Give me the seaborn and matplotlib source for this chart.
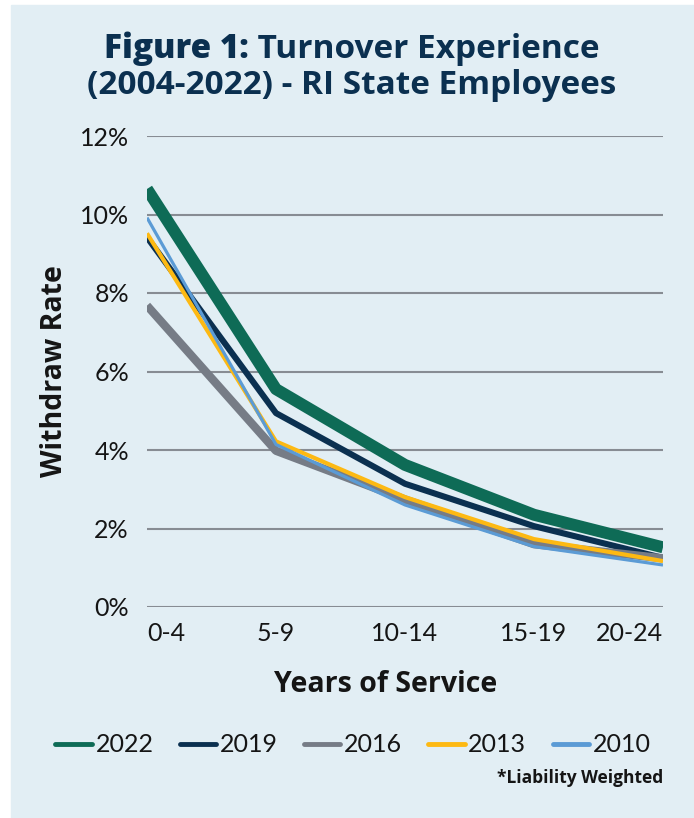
import matplotlib
matplotlib.use("Agg")
import matplotlib.pyplot as plt
import seaborn as sns
import pandas as pd
from matplotlib.patches import Rectangle
from matplotlib.lines import Line2D

# Service bands and withdrawal rates (%) by experience study year
service_bands = ["0-4", "5-9", "10-14", "15-19", "20-24"]
years = ["2022", "2019", "2016", "2013", "2010"]
rate_2022 = [10.65, 5.55, 3.62, 2.35, 1.52]
rate_2019 = [9.42, 4.94, 3.14, 2.06, 1.25]
rate_2016 = [7.68, 3.98, 2.74, 1.60, 1.24]
rate_2013 = [9.52, 4.22, 2.80, 1.73, 1.17]
rate_2010 = [9.92, 4.14, 2.60, 1.54, 1.07]
y_ticks = [0, 2, 4, 6, 8, 10, 12]

colors = {"2022": "#0E6B56", "2019": "#0B3050", "2016": "#767C86",
          "2013": "#FDB913", "2010": "#5B9BD5"}
widths = {"2022": 8.6, "2019": 4.4, "2016": 6.0, "2013": 3.0, "2010": 2.3}

series = {"2022": rate_2022, "2019": rate_2019, "2016": rate_2016,
          "2013": rate_2013, "2010": rate_2010}
df = pd.DataFrame([
    {"band": b, "pos": i, "year": y, "rate": v}
    for y in years
    for i, (b, v) in enumerate(zip(service_bands, series[y]))
])

BG = "#E2EEF4"
TXT = "#151515"
NAVY = "#0B3050"
W, H = 694, 818

sns.set_theme(style="white")
plt.rcParams["font.family"] = ["Lato", "DejaVu Sans"]

fig = plt.figure(figsize=(W / 100, H / 100), dpi=100)
fig.patch.set_facecolor("white")
fig.add_artist(Rectangle((11 / W, 0), 1 - 11 / W, 1 - 5 / H,
                         transform=fig.transFigure, color=BG, zorder=-10))

ax = fig.add_axes([147 / W, 1 - 607 / H, (663 - 147) / W, (607 - 136) / H])
ax.set_facecolor("none")

sns.lineplot(data=df, x="pos", y="rate", hue="year", hue_order=years,
             palette=colors, size="year", size_order=years, sizes=widths,
             legend=False, ax=ax, solid_capstyle="butt", sort=False)

ax.set_xlim(0, 4)
ax.set_ylim(0, 12)
ax.set_yticks(y_ticks)
ax.set_yticklabels([f"{t}%" for t in y_ticks])
ax.yaxis.grid(True, color="#878C93", linewidth=1.5)
ax.set_axisbelow(True)
for s in ax.spines.values():
    s.set_visible(False)
ax.tick_params(axis="y", length=0, pad=13, labelsize=18, labelcolor=TXT)
ax.tick_params(axis="x", length=0, pad=11, labelsize=18, labelcolor=TXT)
ax.set_xticks(range(len(service_bands)))
ax.set_xticklabels(service_bands)
xl = ax.get_xticklabels()
xl[0].set_horizontalalignment("left")
xl[-1].set_horizontalalignment("right")
ax.set_xlabel("")
ax.set_ylabel("")

fig.text(55 / W, 1 - 371 / H, "Withdraw Rate", rotation=90, ha="center",
         va="center", fontsize=20.5, fontweight="bold", color=TXT,
         family="Open Sans")
fig.text(386 / W, 1 - 685 / H, "Years of Service", ha="center", va="center",
         fontsize=20.5, fontweight="bold", color=TXT, family="Open Sans")

# Title: first line mixes a heavy lead-in with a bold remainder
fig.canvas.draw()
r = fig.canvas.get_renderer()
t1 = fig.text(0, 1 - 49 / H, "Figure 1:", fontsize=24, fontweight="heavy",
              color=NAVY, va="center", ha="left", family="Open Sans")
t2 = fig.text(0, 1 - 49 / H, " Turnover Experience", fontsize=24,
              fontweight="bold", color=NAVY, va="center", ha="left",
              family="Open Sans")
w1 = t1.get_window_extent(r).width
w2 = t2.get_window_extent(r).width
x0 = 352 - (w1 + w2) / 2
t1.set_x(x0 / W)
t2.set_x((x0 + w1) / W)
fig.text(352 / W, 1 - 86 / H, "(2004-2022) - RI State Employees",
         fontsize=24, fontweight="bold", color=NAVY, ha="center",
         va="center", family="Open Sans")

handles = [Line2D([], [], color=colors[y], linewidth=3.5) for y in years]
leg = fig.legend(handles, years, loc="center", ncol=5,
                 bbox_to_anchor=(353 / W, 1 - 745 / H), frameon=False,
                 fontsize=18, handlelength=1.45, handletextpad=0.15,
                 columnspacing=1.05)
for t in leg.get_texts():
    t.set_color(TXT)

fig.text(663 / W, 1 - 778 / H, "*Liability Weighted", ha="right",
         va="center", fontsize=12.5, fontweight="bold", color=TXT,
         family="Open Sans")

fig.savefig("out.png", dpi=100, facecolor=fig.get_facecolor())
